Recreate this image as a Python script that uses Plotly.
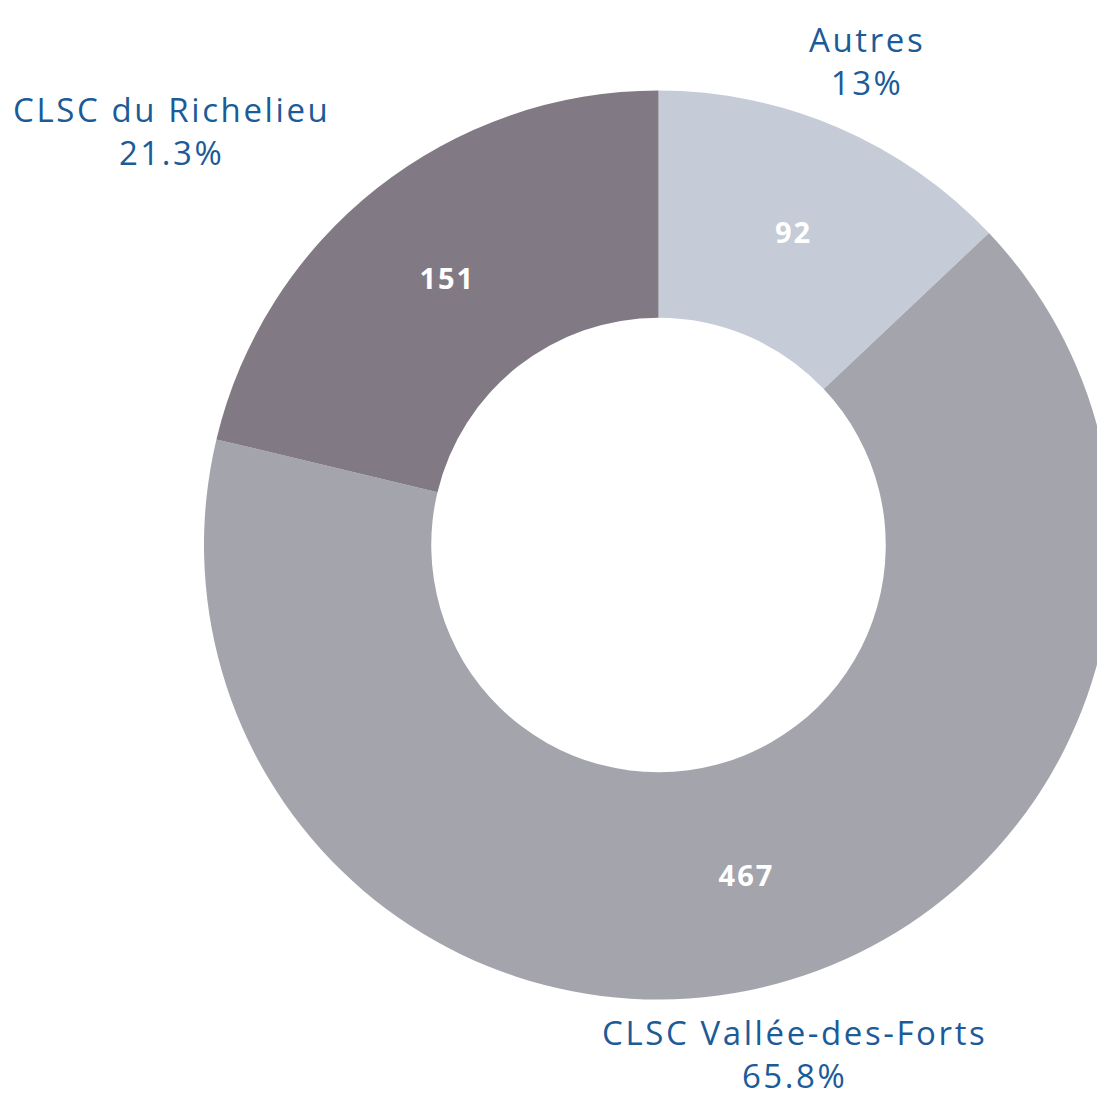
import math
import plotly.graph_objects as go

# Data
labels = ['Autres', 'CLSC Vallée-des-Forts', 'CLSC du Richelieu']
values = [92, 467, 151]
colors = ['#C5CBD7', '#A4A4AD', '#817983']

W, H = 1105, 1096
# the page body adds an 8px margin around the figure
dom_x = [196 / W, 1.0]
dom_y = [1 - 991.5 / H, 1 - 82.5 / H]

fig = go.Figure(go.Pie(
    labels=labels,
    values=values,
    hole=0.5,
    sort=False,
    direction='clockwise',
    rotation=0,
    marker=dict(colors=colors, line=dict(width=0)),
    texttemplate="<span style='letter-spacing:2px'>%{value}</span>",
    textposition='inside',
    insidetextorientation='horizontal',
    textfont=dict(family='Open Sans', size=29, color='white', weight='bold'),
    hoverinfo='label+value+percent',
    domain=dict(x=dom_x, y=dom_y),
))

# Outside labels around the ring, placed from each slice's mid-angle
cx = (dom_x[0] + dom_x[1]) / 2 * W
cy = (1 - (dom_y[0] + dom_y[1]) / 2) * H
r_out = min((dom_x[1] - dom_x[0]) * W, (dom_y[1] - dom_y[0]) * H) / 2
R = r_out * 1.16
total = sum(values)
cum = 0
for lab, v in zip(labels, values):
    mid = (cum + v / 2) / total * 2 * math.pi
    cum += v
    s, c = math.sin(mid), math.cos(mid)
    px = cx + R * s
    py = cy - R * c
    pct = f"{v / total * 100:.1f}".rstrip('0').rstrip('.') + '%'
    anchor = 'right' if s < -0.5 else ('left' if s > 0.5 else 'center')
    fig.add_annotation(
        x=px / W, y=1 - py / H, xref='paper', yref='paper',
        text=f"<span style='letter-spacing:2.6px'>{lab}<br>{pct}</span>",
        showarrow=False,
        xanchor=anchor, yanchor='middle', align='center',
        font=dict(family='Open Sans', size=33, color='#1B5B98'),
    )

fig.update_layout(
    width=W, height=H,
    margin=dict(l=0, r=0, t=0, b=0),
    showlegend=False,
    paper_bgcolor='white',
)

fig.write_html("out.html")
